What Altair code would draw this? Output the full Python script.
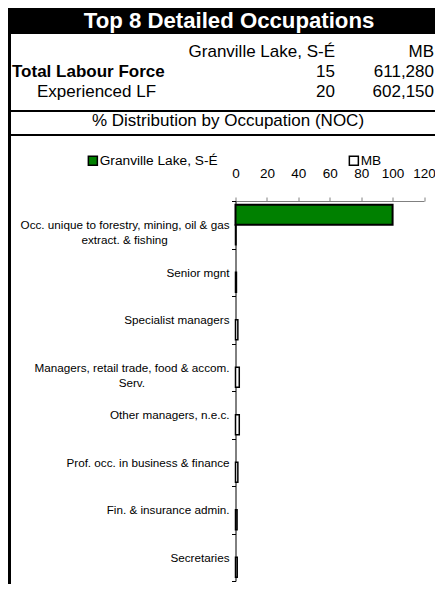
import altair as alt
import pandas as pd

# ---------------- data ----------------
categories = [
    "Occ. unique to forestry, mining, oil & gas|extract. & fishing",
    "Senior mgnt",
    "Specialist managers",
    "Managers, retail trade, food & accom.|Serv.",
    "Other managers, n.e.c.",
    "Prof. occ. in business & finance",
    "Fin. & insurance admin.",
    "Secretaries",
]
series = ["Granville Lake, S-É", "MB"]
granville = [100, 0, 0, 0, 0, 0, 0, 0]
mb = [0.3, 0.6, 1.5, 2.4, 2.4, 1.5, 1.0, 1.1]
x_ticks = [0, 20, 40, 60, 80, 100, 120]

title_text = "Top 8 Detailed Occupations"
header_area = "Granville Lake, S-É"
header_prov = "MB"
row_labels = ["Total Labour Force", "Experienced LF"]
row_area = ["15", "20"]
row_prov = ["611,280", "602,150"]
subtitle = "% Distribution by Occupation (NOC)"

# centre the second line of two-line labels under the first
# (non-breaking pad, closed by a zero-width space so it is not trimmed)
second_line_pad = {0: 19, 3: 26}
cat_display = []
for i, c in enumerate(categories):
    if "|" in c:
        a, b = c.split("|")
        c = a + "|" + b + "\u00a0" * second_line_pad.get(i, 0) + "\u200b"
    cat_display.append(c)

rows = []
for i, c in enumerate(cat_display):
    rows.append({"cat": c, "series": series[0], "value": granville[i]})
    rows.append({"cat": c, "series": series[1], "value": mb[i]})
df = pd.DataFrame(rows)

FONT = "Liberation Sans"

bars = (
    alt.Chart(df)
    .transform_filter("datum.value > 0")
    .mark_bar(stroke="black")
    .encode(
        x=alt.X(
            "value:Q",
            scale=alt.Scale(domain=[0, 120], nice=False),
            axis=alt.Axis(
                orient="top", values=x_ticks, title=None, grid=False,
                domainColor="#808080", tickColor="#808080", tickSize=4,
                labelFontSize=13.5, labelPadding=17, labelColor="black",
                labelFont=FONT, labelFlush=False,
            ),
        ),
        y=alt.Y(
            "cat:N",
            sort=cat_display,
            scale=alt.Scale(domain=cat_display, paddingInner=0, paddingOuter=0),
            axis=alt.Axis(
                title=None, labelExpr="split(datum.label, '|')",
                labelFontSize=11.7, labelFont=FONT, labelColor="black",
                labelPadding=2.5, tickBand="extent", tickSize=4,
                tickColor="black", domainColor="black", labelLineHeight=15,
                labelLimit=400,
            ),
        ),
        yOffset=alt.YOffset(
            "series:N", sort=series,
            scale=alt.Scale(domain=series, paddingOuter=0.1875, paddingInner=0),
        ),
        color=alt.Color(
            "series:N",
            scale=alt.Scale(domain=series, range=["#008000", "#ffffff"]),
            legend=alt.Legend(
                title=None, orient="none", legendX=-149.5, legendY=-47.5,
                direction="horizontal", symbolType="square", symbolSize=81,
                symbolStrokeColor="black", symbolStrokeWidth=1.5,
                labelFontSize=13.7, labelFont=FONT, labelColor="black",
                labelOffset=0, columnPadding=128,
            ),
        ),
        strokeWidth=alt.condition("datum.series == 'MB'", alt.value(1.5), alt.value(2)),
    )
)

one = pd.DataFrame({"t": [""]})


def rect(x, x2, y, y2):
    return alt.Chart(one).mark_rect(color="black").encode(
        x=alt.value(x), x2=alt.value(x2), y=alt.value(y), y2=alt.value(y2)
    )


def hline(y, w=2):
    return alt.Chart(one).mark_rule(color="black", strokeWidth=w).encode(
        x=alt.value(-227.5), x2=alt.value(220), y=alt.value(y)
    )


def txt(s, x, y, align="left", size=17, bold=False, color="black"):
    return alt.Chart(pd.DataFrame({"t": [s]})).mark_text(
        align=align, baseline="alphabetic", font=FONT, fontSize=size,
        fontWeight="bold" if bold else "normal", color=color,
    ).encode(text="t:N", x=alt.value(x), y=alt.value(y))


layers = [
    rect(-227.5, 220, -193, -167),
    rect(-227.5, -224.5, -167, 391),
    hline(-90),
    hline(-66),
    txt(title_text, -6.5, -173, "center", 22.2, True, "white"),
    txt(header_area, 99.5, -144.5, "right"),
    txt(header_prov, 198.5, -144.5, "right"),
    txt(row_labels[0], -223.5, -124, "left", 17, True),
    txt(row_area[0], 99.5, -124, "right"),
    txt(row_prov[0], 198.5, -124, "right"),
    txt(row_labels[1], -198.5, -104.3, "left"),
    txt(row_area[1], 99.5, -104.3, "right"),
    txt(row_prov[1], 198.5, -104.3, "right"),
    txt(subtitle, -7.5, -75, "center"),
    bars,
]

chart = (
    alt.layer(*layers)
    .properties(
        width=188.5, height=380,
        autosize=alt.AutoSizeParams(type="none"),
        padding={"left": 227.5, "top": 193, "right": 11, "bottom": 3},
        background="white",
    )
    .configure_view(stroke=None)
)

chart.save("out.html", embed_options={"renderer": "svg", "actions": False})
